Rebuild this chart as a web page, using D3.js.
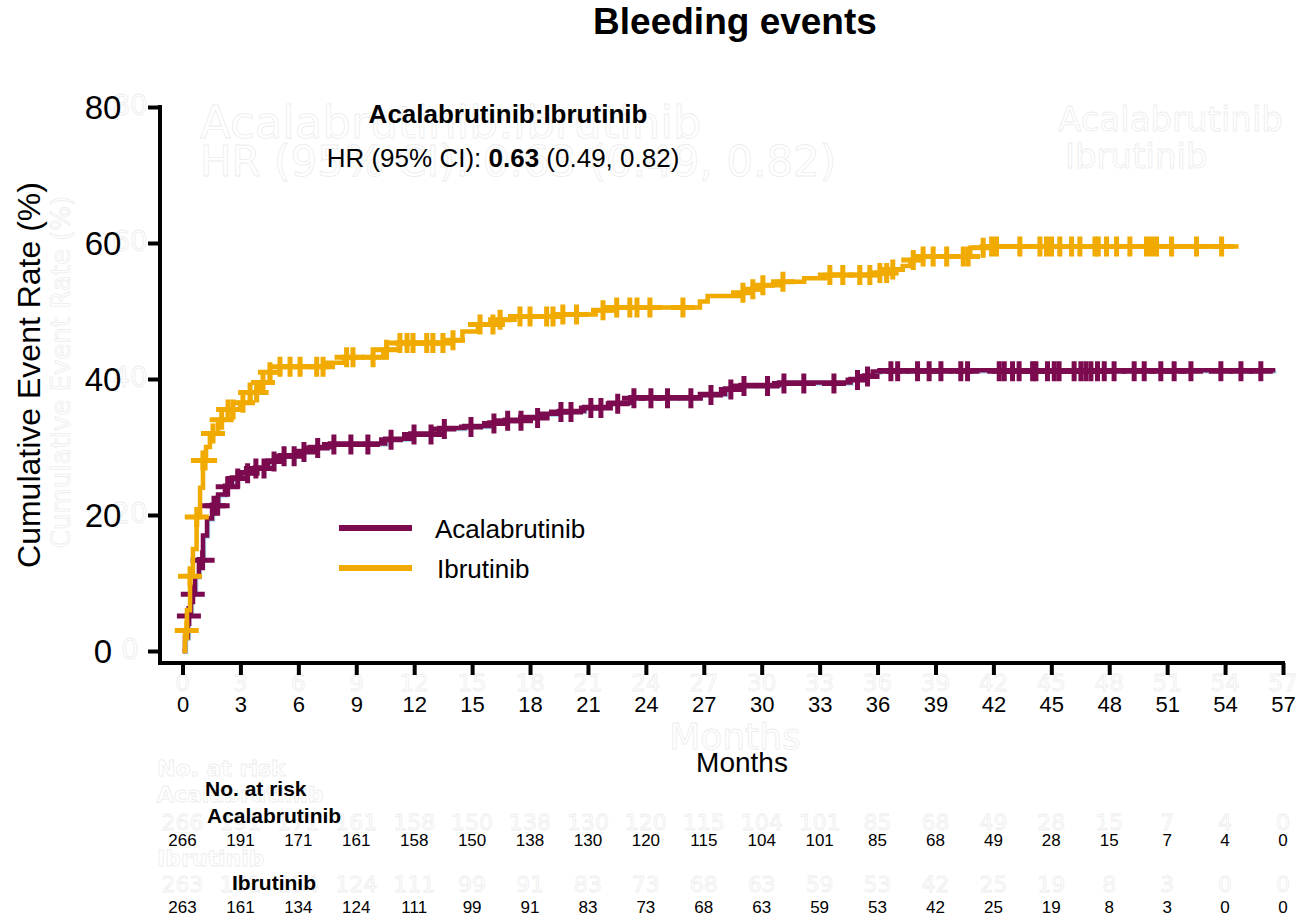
<!DOCTYPE html>
<html>
<head>
<meta charset="utf-8">
<script src="https://cdn.jsdelivr.net/npm/d3@7"></script>
<style>
  html, body { margin: 0; padding: 0; background: #fff; }
  svg { display: block; font-family: "Liberation Sans", Arial, sans-serif; }
</style>
</head>
<body>
<svg id="chart" width="1299" height="922"></svg>
<script>
// ---- data ----------------------------------------------------------------
const seriesNames = ["Acalabrutinib", "Ibrutinib"];
const seriesColors = ["#7c0a4f", "#f0aa00"];

// Kaplan-Meier style cumulative event steps: [month, cumulative %]
const acalaSteps = [
  [0, 0], [0.13, 2], [0.28, 5.3], [0.44, 8.5], [0.65, 11], [0.85, 13.5], [1.06, 17],
  [1.27, 19.5], [1.53, 21.5], [1.84, 23], [2.2, 24.3], [2.56, 25.5], [2.98, 26.3],
  [3.75, 27], [4.43, 28], [5.05, 28.8], [5.83, 29.4], [6.6, 30], [7.64, 30.5],
  [10.5, 31.2], [11.8, 32], [13.3, 32.8], [14.6, 33.1], [15.9, 33.6], [16.7, 34],
  [17.5, 34.4], [18.5, 34.9], [19.5, 35.3], [20.8, 35.9], [22.1, 36.5], [23.2, 37.3],
  [26.8, 37.8], [28.1, 38.6], [28.9, 39.1], [30.9, 39.5], [34.6, 40], [35.3, 40.5],
  [35.75, 41.1], [36.1, 41.3]
];
const acalaEnd = 56.6;
const acalaCensored = [
  0.28, 0.48, 0.99, 1.58, 1.77, 2.29, 2.81, 3.32, 3.75, 4.17, 4.69, 5.21, 5.73, 6.24,
  6.95, 7.79, 8.67, 9.55, 10.75, 11.94, 12.82, 13.51, 14.89, 16.08, 16.79, 17.48,
  18.34, 19.55, 20.07, 21.1, 21.62, 22.49, 23.33, 24.21, 25.07, 26.28, 27.32, 28.35,
  29.03, 30.25, 31.1, 32.13, 33.69, 34.91, 35.43, 36.64, 36.99, 38.02, 38.62, 39.23,
  40.26, 40.61, 42.25, 42.51, 42.94, 43.28, 43.98, 44.15, 44.75, 45.1, 45.35, 46.13,
  46.48, 46.74, 47.0, 47.34, 47.69, 48.2, 49.24, 49.76, 50.62, 51.31, 52.18, 53.73,
  54.77, 55.8
];

const ibruSteps = [
  [0, 0], [0.13, 3], [0.23, 6], [0.39, 11], [0.54, 15], [0.73, 19.7], [0.91, 24],
  [1.06, 28], [1.22, 30], [1.42, 32], [1.84, 34], [2.36, 35.5], [2.98, 36.5], [3.5, 38],
  [4.0, 39.5], [4.53, 41], [5.05, 41.8], [7.38, 42.4], [8.4, 43.2], [10.4, 44.3],
  [11.2, 45.3], [13.85, 45.7], [14.5, 47], [15.3, 48], [16.4, 48.7], [17.2, 49.2],
  [19.55, 49.5], [21.4, 50.1], [22.2, 50.5], [26.8, 51.4], [27.2, 52.2], [29, 52.7],
  [29.4, 53.2], [29.9, 53.8], [30.9, 54.3], [32.2, 54.8], [33.3, 55.3], [35.9, 55.6],
  [36.5, 56.1], [37.3, 56.6], [37.7, 57.5], [38.1, 58], [40.8, 59.3], [41.6, 59.5]
];
const ibruEnd = 54.7;
const ibruCensored = [
  0.22, 0.39, 0.74, 1.06, 1.17, 1.58, 2.03, 2.36, 2.62, 3.13, 3.5, 3.84, 4.17, 4.53,
  5.05, 5.57, 6.09, 6.95, 7.28, 8.5, 8.83, 9.87, 10.57, 11.26, 11.63, 11.94, 12.65,
  12.97, 13.49, 14.01, 15.41, 16.08, 16.45, 17.48, 18.0, 18.86, 19.19, 19.7, 20.41,
  21.78, 22.49, 23.17, 23.54, 24.21, 25.92, 29.03, 29.54, 30.06, 31.1, 33.53, 34.2,
  35.08, 35.6, 36.12, 36.47, 36.79, 37.85, 38.36, 38.88, 39.58, 40.44, 40.69, 41.47,
  41.91, 42.16, 43.37, 44.41, 44.75, 45.01, 45.44, 46.05, 46.48, 47.26, 47.43, 47.86,
  48.38, 49.07, 49.93, 50.19, 50.45, 51.23, 52.52, 53.82
];

const xTicks = d3.range(0, 58, 3);
const yTicks = [0, 20, 40, 60, 80];
const riskAcala = [266, 191, 171, 161, 158, 150, 138, 130, 120, 115, 104, 101, 85, 68, 49, 28, 15, 7, 4, 0];
const riskIbru  = [263, 161, 134, 124, 111, 99, 91, 83, 73, 68, 63, 59, 53, 42, 25, 19, 8, 3, 0, 0];

const hrLabel = "Acalabrutinib:Ibrutinib";
const hrValue = "0.63";
const hrCI = "(0.49, 0.82)";

// ---- layout ----------------------------------------------------------------
const svg = d3.select("#chart");
const x = d3.scaleLinear().domain([0, 57]).range([182.5, 1283]);
const y = d3.scaleLinear().domain([0, 80]).range([651, 107]);
const yAxisX = 160, xAxisY = 663;

// faint outlined echo text layer behind the chart
const ghost = svg.append("g")
  .attr("font-family", "DejaVu Sans, sans-serif")
  .attr("fill", "#fff").attr("stroke", "#ededed").attr("stroke-width", 0.8);
ghost.append("text").attr("x", 200).attr("y", 138).attr("font-size", 45).text(hrLabel);
ghost.append("text").attr("x", 200).attr("y", 176).attr("font-size", 42)
  .text(`HR (95% CI): ${hrValue} ${hrCI}`);
ghost.append("text").attr("x", 1058).attr("y", 131).attr("font-size", 34).text(seriesNames[0]);
ghost.append("text").attr("x", 1065).attr("y", 168).attr("font-size", 34).text(seriesNames[1]);
yTicks.forEach(v => ghost.append("text").attr("x", 130).attr("y", y(v) + 8)
  .attr("text-anchor", "middle").attr("font-size", 28).text(v));
ghost.append("text").attr("transform", `translate(70,${372}) rotate(-90)`)
  .attr("text-anchor", "middle").attr("font-size", 26).text("Cumulative Event Rate (%)");
xTicks.forEach(v => ghost.append("text").attr("x", x(v)).attr("y", 691)
  .attr("text-anchor", "middle").attr("font-size", 23).text(v));
ghost.append("text").attr("x", 735).attr("y", 749).attr("text-anchor", "middle")
  .attr("font-size", 36).text("Months");
ghost.append("text").attr("x", 157).attr("y", 776).attr("font-size", 22).attr("font-weight", "bold").text("No. at risk");
ghost.append("text").attr("x", 157).attr("y", 802).attr("font-size", 22).attr("font-weight", "bold").text(seriesNames[0]);
ghost.append("text").attr("x", 157).attr("y", 866).attr("font-size", 22).attr("font-weight", "bold").text(seriesNames[1]);
riskAcala.forEach((v, i) => ghost.append("text").attr("x", x(xTicks[i])).attr("y", 830)
  .attr("text-anchor", "middle").attr("font-size", 22).text(v));
riskIbru.forEach((v, i) => ghost.append("text").attr("x", x(xTicks[i])).attr("y", 892)
  .attr("text-anchor", "middle").attr("font-size", 22).text(v));

// ---- title & annotation ---------------------------------------------------
svg.append("text").attr("x", 735).attr("y", 34).attr("text-anchor", "middle")
  .attr("font-size", 37).attr("font-weight", "bold").text("Bleeding events");

svg.append("text").attr("x", 508).attr("y", 123).attr("text-anchor", "middle")
  .attr("font-size", 26).attr("font-weight", "bold").text(hrLabel);
const hr = svg.append("text").attr("x", 503).attr("y", 167).attr("text-anchor", "middle")
  .attr("font-size", 26);
hr.append("tspan").text("HR (95% CI): ");
hr.append("tspan").attr("font-weight", "bold").text(hrValue);
hr.append("tspan").text(" " + hrCI);

// ---- axes -----------------------------------------------------------------
const axisStroke = 4;
const yAxis = svg.append("g").attr("transform", `translate(${yAxisX},0)`)
  .call(d3.axisLeft(y).tickValues(yTicks).tickSize(12).tickSizeOuter(0));
yAxis.select(".domain").remove();
yAxis.selectAll(".tick line").attr("stroke", "#000").attr("stroke-width", axisStroke);
yAxis.selectAll(".tick text").attr("font-size", 33).attr("fill", "#000")
  .attr("font-family", "Liberation Sans, Arial, sans-serif")
  .attr("text-anchor", "middle").attr("x", -57).attr("dy", "0.36em");

const xAxis = svg.append("g").attr("transform", `translate(0,${xAxisY})`)
  .call(d3.axisBottom(x).tickValues(xTicks).tickSize(12).tickSizeOuter(0).tickPadding(21));
xAxis.select(".domain").remove();
xAxis.selectAll(".tick line").attr("stroke", "#000").attr("stroke-width", axisStroke);
xAxis.selectAll(".tick text").attr("font-size", 22).attr("fill", "#000")
  .attr("font-family", "Liberation Sans, Arial, sans-serif");

svg.append("path")
  .attr("d", `M${yAxisX},${y(80) - 2}V${xAxisY}H${x(57) + 2}`)
  .attr("fill", "none").attr("stroke", "#000").attr("stroke-width", axisStroke)
  .attr("stroke-linejoin", "miter");

svg.append("text").attr("transform", `translate(40,${375}) rotate(-90)`)
  .attr("text-anchor", "middle").attr("font-size", 32).text("Cumulative Event Rate (%)");
svg.append("text").attr("x", 742).attr("y", 772).attr("text-anchor", "middle")
  .attr("font-size", 28).text("Months");

// ---- curves -----------------------------------------------------------------
const line = d3.line().x(d => x(d[0])).y(d => y(d[1])).curve(d3.curveStepAfter);
function levelAt(steps, t) {
  let v = 0;
  for (const s of steps) { if (s[0] <= t) v = s[1]; else break; }
  return v;
}
function drawSeries(steps, end, censored, color, halo) {
  const pts = steps.concat([[end, steps[steps.length - 1][1]]]);
  const g = svg.append("g");
  const crossPath = t => {
    const cx = x(t), cy = y(levelAt(steps, t));
    return `M${cx - 12},${cy}H${cx + 12}M${cx},${cy - 10}V${cy + 10}`;
  };
  if (halo) {
    const h = g.append("g").attr("transform", "translate(1,1)");
    h.append("path").attr("d", line(pts)).attr("fill", "none")
      .attr("stroke", halo).attr("stroke-width", 4.5);
    h.selectAll("path.c").data(censored).join("path").attr("class", "c")
      .attr("d", crossPath).attr("stroke", halo).attr("stroke-width", 5);
  }
  g.append("path").attr("d", line(pts)).attr("fill", "none")
    .attr("stroke", color).attr("stroke-width", 4.5);
  g.selectAll("path.c").data(censored).join("path").attr("class", "c")
    .attr("d", crossPath).attr("stroke", color).attr("stroke-width", 5);
}
drawSeries(acalaSteps, acalaEnd, acalaCensored, seriesColors[0], "#a9dcec");
drawSeries(ibruSteps, ibruEnd, ibruCensored, seriesColors[1], null);

// ---- legend -----------------------------------------------------------------
const legend = svg.append("g");
[[528, 0], [568, 1]].forEach(([ly, i]) => {
  legend.append("line").attr("x1", 339).attr("x2", 412).attr("y1", ly).attr("y2", ly)
    .attr("stroke", seriesColors[i]).attr("stroke-width", 6);
  legend.append("text").attr("x", 435 + i * 2).attr("y", ly + 10).attr("font-size", 26)
    .text(seriesNames[i]);
});

// ---- number at risk table ----------------------------------------------------
svg.append("text").attr("x", 205).attr("y", 796).attr("font-size", 21)
  .attr("font-weight", "bold").text("No. at risk");
svg.append("text").attr("x", 207).attr("y", 823).attr("font-size", 21)
  .attr("font-weight", "bold").text(seriesNames[0]);
svg.append("text").attr("x", 232).attr("y", 890).attr("font-size", 21)
  .attr("font-weight", "bold").text(seriesNames[1]);
const risk = svg.append("g").attr("font-size", 17).attr("text-anchor", "middle");
risk.selectAll("text.a").data(riskAcala).join("text").attr("class", "a")
  .attr("x", (d, i) => x(xTicks[i])).attr("y", 846).text(d => d);
risk.selectAll("text.b").data(riskIbru).join("text").attr("class", "b")
  .attr("x", (d, i) => x(xTicks[i])).attr("y", 913).text(d => d);
</script>
</body>
</html>
